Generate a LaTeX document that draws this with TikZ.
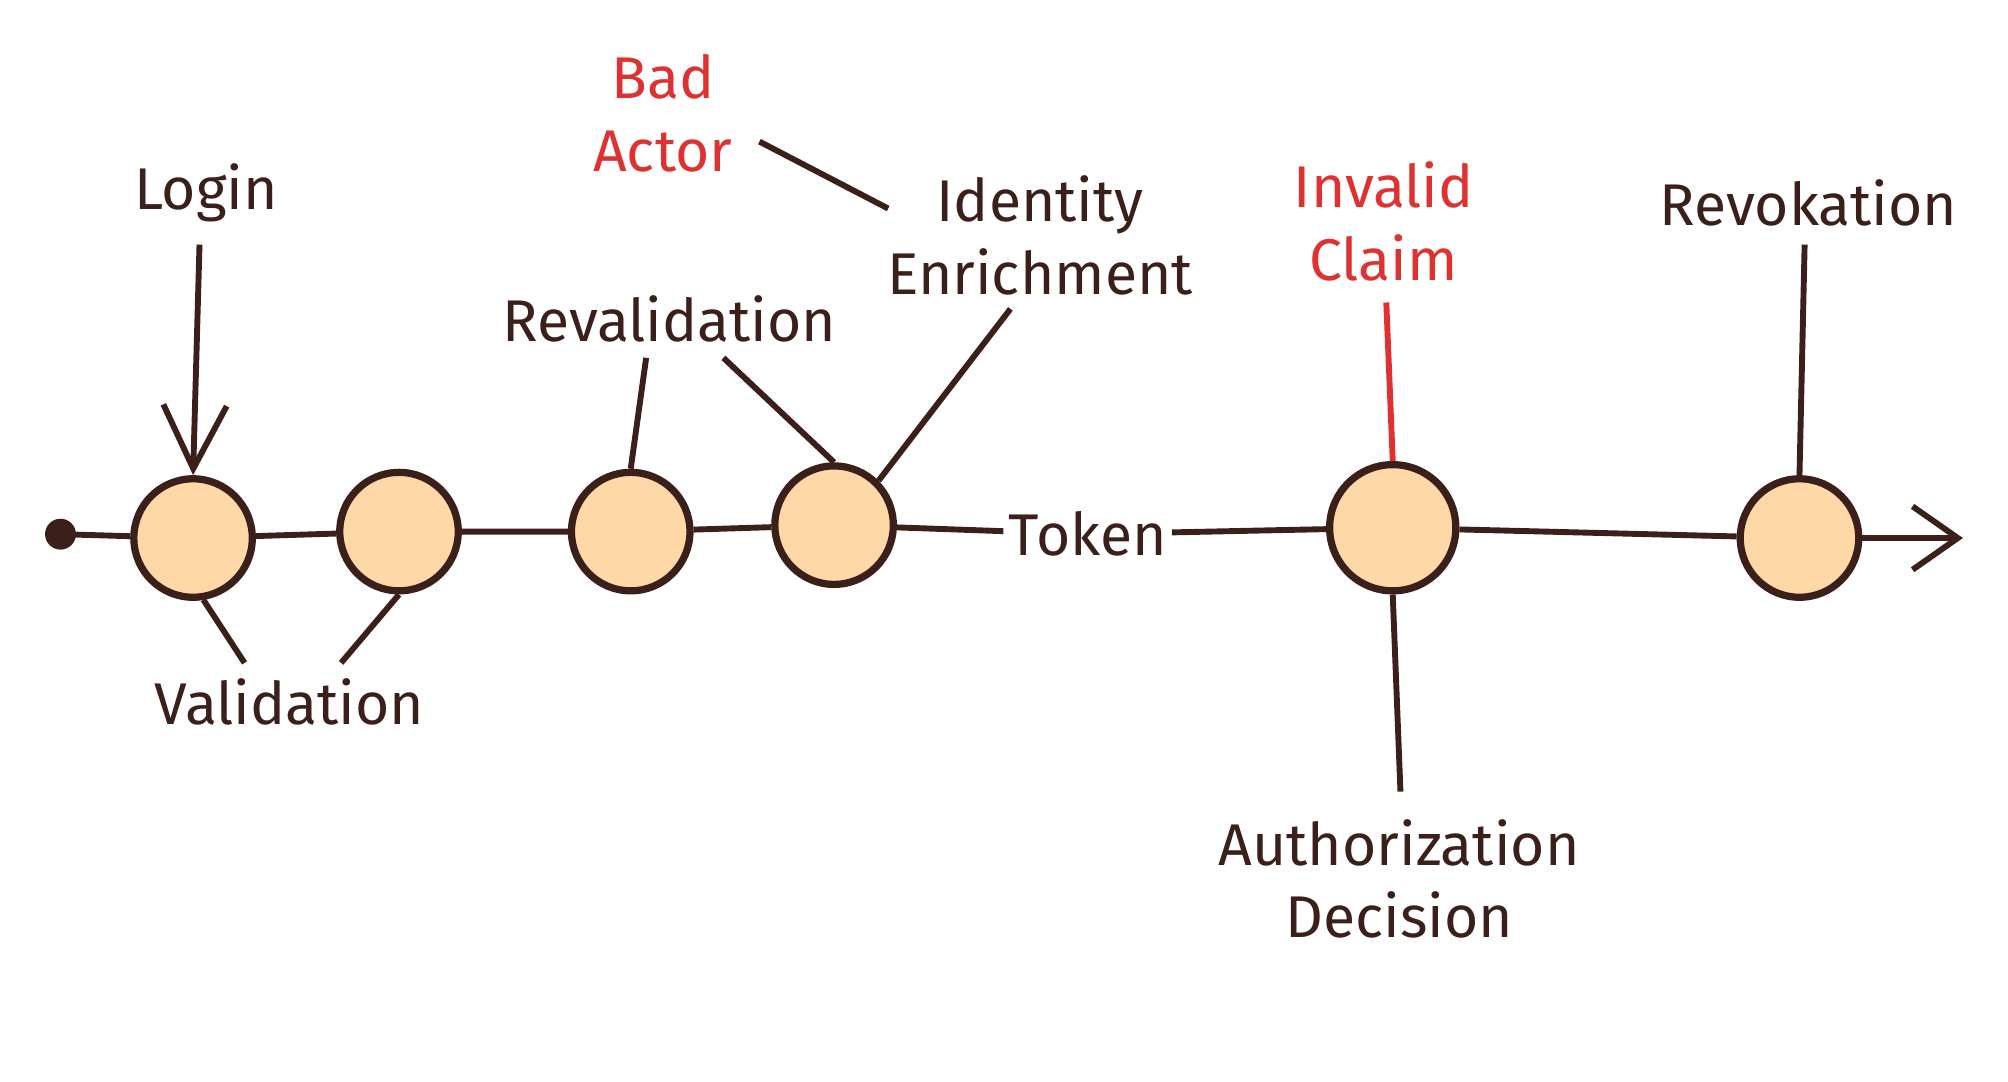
\documentclass[tikz,border=0pt]{standalone}
\usepackage{fontspec}
\setmainfont{Fira Sans}
\usetikzlibrary{arrows.meta}
\definecolor{ink}{HTML}{3B1F1B}
\definecolor{bad}{HTML}{E03131}
\definecolor{peach}{HTML}{FFD8A8}
\begin{document}
\begin{tikzpicture}[x=0.01cm,y=-0.01cm,
  st/.style={circle,draw=ink,line width=1.6pt,fill=peach,minimum size=0.92cm,inner sep=0pt},
  lbl/.style={text=ink,font=\fontsize{13}{16}\selectfont,align=center},
  red/.style={text=bad,font=\fontsize{13}{16}\selectfont,align=center},
  ln/.style={draw=ink,line width=1.3pt}]
\useasboundingbox (0,0) rectangle (1560,840);
\coordinate (s) at (47,415);
\coordinate (e) at (1525,418);
\fill[ink] (s) circle (12);
\node[st] (c1) at (150,418) {};
\node[st] (c2) at (310,413) {};
\node[st] (c3) at (490,413) {};
\node[st] (c4) at (648,408) {};
\node[st,minimum size=0.98cm] (c5) at (1082,410) {};
\node[st] (c6) at (1398,418) {};
\node[lbl,fill=white,inner sep=1pt] (tok) at (845,415) {Token};
\draw[ln] (s) -- (c1) -- (c2) -- (c3) -- (c4) -- (tok) -- (c5) -- (c6);
\draw[ln,-{Straight Barb[length=10pt,width=14pt]}] (c6) -- (e);
\node[lbl] (login) at (160,150) {Login};
\draw[ln,-{Straight Barb[length=14pt,width=14pt]}] (155,190) -- (c1.north);
\node[lbl] (val) at (225,545) {Validation};
\draw[ln] (190,515) -- (158,466);
\draw[ln] (265,515) -- (c2.south);
\node[lbl] (reval) at (520,248) {Revalidation};
\draw[ln] (502,278) -- (c3.north);
\draw[ln] (562,278) -- (c4.north);
\node[lbl] (ident) at (808,183) {Identity\\Enrichment};
\draw[ln] (785,240) -- (c4.north east);
\node[red] (bad) at (515,88) {Bad\\Actor};
\draw[ln] (590,110) -- (690,162);
\node[red] (inv) at (1075,172) {Invalid\\Claim};
\draw[draw=bad,line width=1.3pt] (1077,235) -- (c5.north);
\node[lbl] (rev) at (1405,158) {Revokation};
\draw[ln] (1402,190) -- (c6.north);
\node[lbl] (auth) at (1087,683) {Authorization\\Decision};
\draw[ln] (c5.south) -- (1088,615);
\end{tikzpicture}
\end{document}
